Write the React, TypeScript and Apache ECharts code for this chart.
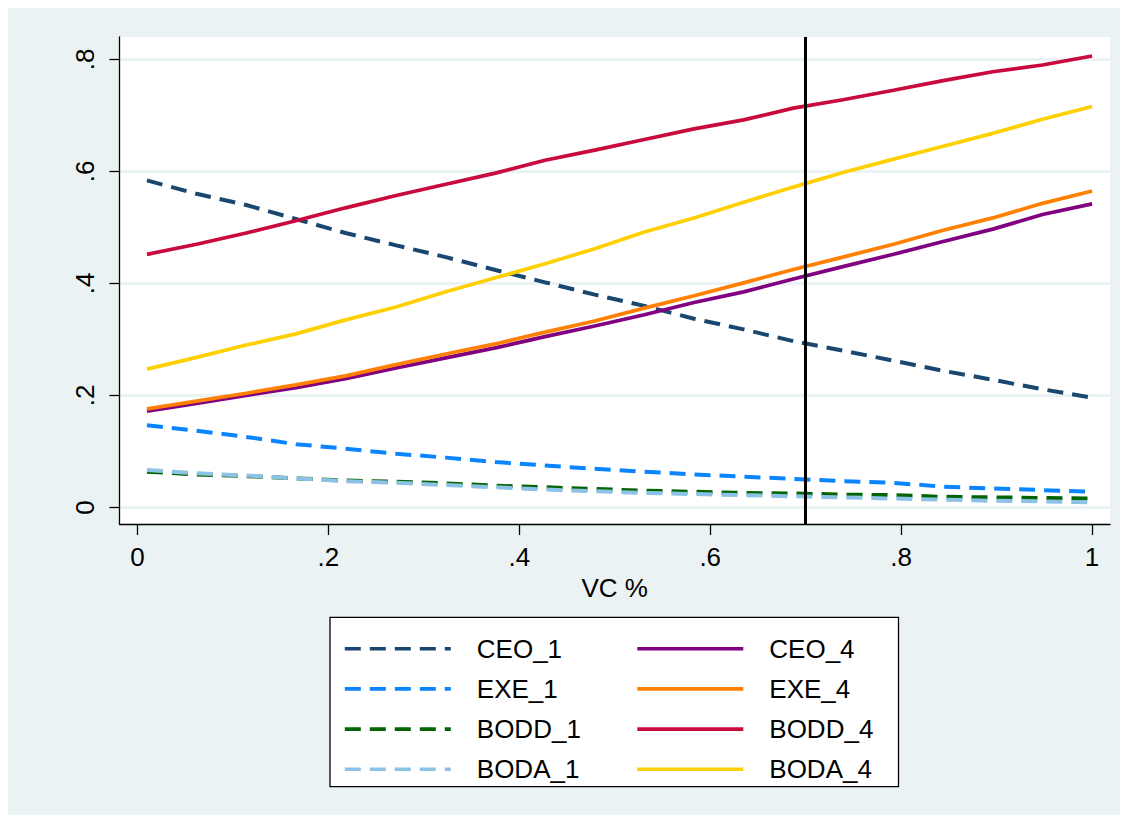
import React, { useEffect, useRef } from "react";
import * as echarts from "echarts";

const xValues = [0.010, 0.062, 0.114, 0.166, 0.218, 0.271, 0.323, 0.375, 0.427, 0.479, 0.531, 0.583, 0.635, 0.687, 0.739, 0.792, 0.844, 0.896, 0.948, 1.000];

const ceo1 = [0.584, 0.560, 0.540, 0.515, 0.490, 0.468, 0.447, 0.424, 0.402, 0.380, 0.360, 0.337, 0.318, 0.297, 0.280, 0.262, 0.244, 0.228, 0.211, 0.196];
const exe1 = [0.147, 0.137, 0.126, 0.113, 0.105, 0.096, 0.089, 0.081, 0.075, 0.069, 0.064, 0.059, 0.055, 0.051, 0.047, 0.044, 0.037, 0.034, 0.031, 0.028];
const bodd1 = [0.064, 0.059, 0.056, 0.052, 0.048, 0.046, 0.043, 0.039, 0.036, 0.033, 0.030, 0.028, 0.026, 0.025, 0.023, 0.022, 0.019, 0.018, 0.017, 0.016];
const boda1 = [0.067, 0.061, 0.057, 0.052, 0.047, 0.044, 0.040, 0.036, 0.032, 0.029, 0.026, 0.024, 0.022, 0.020, 0.018, 0.016, 0.014, 0.012, 0.011, 0.009];
const ceo4 = [0.172, 0.186, 0.200, 0.214, 0.230, 0.249, 0.267, 0.285, 0.305, 0.324, 0.344, 0.366, 0.385, 0.408, 0.430, 0.452, 0.475, 0.497, 0.523, 0.542];
const exe4 = [0.176, 0.190, 0.204, 0.219, 0.235, 0.255, 0.274, 0.292, 0.313, 0.333, 0.356, 0.378, 0.401, 0.425, 0.447, 0.470, 0.495, 0.517, 0.543, 0.565];
const bodd4 = [0.452, 0.470, 0.490, 0.512, 0.535, 0.557, 0.577, 0.597, 0.620, 0.638, 0.657, 0.676, 0.692, 0.713, 0.728, 0.745, 0.762, 0.778, 0.790, 0.806];
const boda4 = [0.247, 0.268, 0.290, 0.310, 0.335, 0.358, 0.385, 0.410, 0.435, 0.462, 0.492, 0.517, 0.545, 0.572, 0.598, 0.622, 0.645, 0.668, 0.693, 0.716];

const leftLegendNames = ["CEO_1", "EXE_1", "BODD_1", "BODA_1"];
const rightLegendNames = ["CEO_4", "EXE_4", "BODD_4", "BODA_4"];

const xTicks = [0, 0.2, 0.4, 0.6, 0.8, 1];
const yTicks = [0, 0.2, 0.4, 0.6, 0.8];
const cutoffValue = 0.7;
const xAxisTitle = "VC %";

const FONT = "'Liberation Sans', Arial, sans-serif";

const stataLabel = (v: number) => (v === 0 ? "0" : String(v).replace(/^0\./, "."));

export default function App() {
  const ref = useRef<HTMLDivElement>(null);

  useEffect(() => {
    document.documentElement.style.overflow = "hidden";
    const chart = echarts.init(ref.current!, null, { renderer: "svg" });

    const mk = (name: string, vals: number[], color: string, dashed: boolean, extra: any = {}) => ({
      type: "line",
      name,
      data: xValues.map((x, i) => [x, vals[i]]),
      symbol: "none",
      showSymbol: false,
      z: 3,
      itemStyle: { color },
      lineStyle: { color, width: dashed ? 4 : 3.7, type: dashed ? [16, 9] : "solid", cap: "butt" },
      emphasis: { disabled: true },
      ...extra,
    });

    const legendBase = {
      orient: "vertical",
      top: 627.7,
      itemWidth: 106,
      itemHeight: 14,
      itemGap: 14.2,
      padding: 0,
      selectedMode: false,
      z: 10,
      itemStyle: { opacity: 0, borderWidth: 0 },
      lineStyle: { width: 3.6 },
      textStyle: {
        fontSize: 26,
        lineHeight: 26,
        color: "#000",
        fontFamily: FONT,
        padding: [0, 0, 0, 21],
      },
    };

    chart.setOption({
      animation: false,
      backgroundColor: "#eaf2f3",
      textStyle: { fontFamily: FONT },
      grid: {
        left: 111.5,
        top: 29,
        width: 990.5,
        height: 487,
        show: true,
        backgroundColor: "#ffffff",
        borderWidth: 0,
        outerBoundsMode: "none",
      },
      xAxis: {
        type: "value",
        min: -0.01875,
        max: 1.01875,
        name: xAxisTitle,
        nameLocation: "middle",
        nameGap: 49,
        nameTextStyle: { fontSize: 26, color: "#000", fontFamily: FONT },
        axisLine: { show: true, onZero: false, lineStyle: { color: "#000", width: 1.3 } },
        axisTick: { show: true, length: 11, customValues: xTicks, lineStyle: { color: "#000", width: 1.3 } },
        axisLabel: { customValues: xTicks, formatter: stataLabel, fontSize: 26, color: "#000", margin: 20, fontFamily: FONT },
        splitLine: { show: false },
      },
      yAxis: {
        type: "value",
        min: -0.0295,
        max: 0.84,
        axisLine: { show: true, onZero: false, lineStyle: { color: "#000", width: 1.3 } },
        axisTick: { show: true, length: 10, customValues: yTicks, lineStyle: { color: "#000", width: 1.3 } },
        axisLabel: { customValues: yTicks, formatter: stataLabel, rotate: 90, fontSize: 26, color: "#000", margin: 22, fontFamily: FONT },
        splitLine: { show: true, lineStyle: { color: "#eaf2f3", width: 3 } },
      },
      legend: [
        { ...legendBase, left: 335, data: leftLegendNames },
        { ...legendBase, left: 627.5, data: rightLegendNames },
      ],
      graphic: [
        {
          type: "rect",
          z: 1,
          silent: true,
          shape: { x: 322, y: 609.3, width: 568.5, height: 169.4 },
          style: { fill: "#ffffff", stroke: "#000000", lineWidth: 1.3 },
        },
      ],
      series: [
        mk("CEO_1", ceo1, "#1a476f", true),
        mk("EXE_1", exe1, "#0a84ff", true),
        mk("BODD_1", bodd1, "#046404", true),
        mk("BODA_1", boda1, "#8cc2e6", true),
        mk("CEO_4", ceo4, "#800080", false),
        mk("EXE_4", exe4, "#ff8000", false),
        mk("BODD_4", bodd4, "#c80a3c", false),
        mk("BODA_4", boda4, "#ffd000", false, {
          markLine: {
            silent: true,
            z: 10,
            symbol: ["none", "none"],
            label: { show: false },
            emphasis: { disabled: true },
            lineStyle: { color: "#000", width: 3, type: "solid" },
            data: [{ xAxis: cutoffValue }],
          },
        }),
      ],
    });

    return () => chart.dispose();
  }, []);

  return (
    <div style={{ position: "relative" }}>
      <div ref={ref} style={{ width: 1112, height: 807 }} />
      <span
        style={{
          position: "absolute",
          left: 305,
          top: -21.4,
          fontFamily: "'Liberation Serif', serif",
          fontSize: 16,
          lineHeight: "16px",
          color: "#000",
        }}
      >
        p
      </span>
    </div>
  );
}
